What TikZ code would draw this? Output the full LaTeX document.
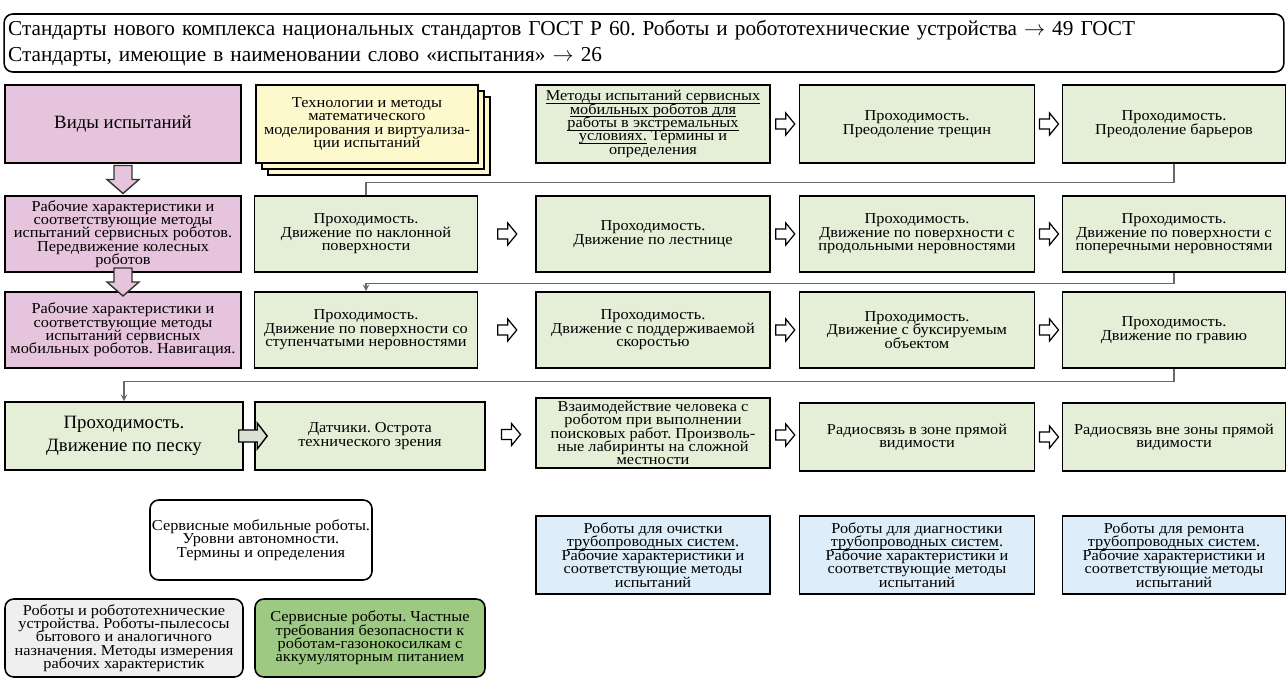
\documentclass[tikz,border=0pt]{standalone}
\usepackage{fontspec}
\setmainfont{Liberation Serif}
\newfontfamily\cellfamily{Liberation Serif}[FakeStretch=1.08]
\usetikzlibrary{calc}

\definecolor{pinkfill}{RGB}{231,196,222}
\definecolor{greenfill}{RGB}{229,239,216}
\definecolor{yellowfill}{RGB}{253,249,204}
\definecolor{bluefill}{RGB}{221,237,249}
\definecolor{greyfill}{RGB}{239,239,239}
\definecolor{lawnfill}{RGB}{158,201,131}
\definecolor{sandarrowfill}{RGB}{220,226,212}
\definecolor{linkgrey}{RGB}{105,105,105}

\newcommand{\cellfont}{\cellfamily\fontsize{8.6}{7.6}\selectfont\lineskiplimit=-4pt\frenchspacing}
\newcommand{\largefont}{\fontsize{10.7}{13.5}\selectfont}
\newcommand{\markline}[1]{\rlap{\underline{\smash{#1}}}\phantom{#1}}

%% hollow block arrow between two boxes of a row
\newcommand{\rightblock}[2]{%
  \path ($(#1.east)!0.5!(#2.west)$) coordinate (mid);
  \draw[blockdecorate] ([shift={(-9,-5)}]mid) -- ([shift={(1,-5)}]mid)
    -- ([shift={(1,-11)}]mid) -- ([shift={(10,0)}]mid) -- ([shift={(1,11)}]mid)
    -- ([shift={(1,5)}]mid) -- ([shift={(-9,5)}]mid) -- cycle;}
%% pink block arrow down the left column
\newcommand{\downblock}[2]{%
  \path ($(#1.south)!0.5!(#2.north)$) coordinate (mid);
  \draw[pinkarrow] ([shift={(-9,-14)}]mid) -- ([shift={(9,-14)}]mid)
    -- ([shift={(9,0)}]mid) -- ([shift={(16,0)}]mid) -- ([shift={(0,14)}]mid)
    -- ([shift={(-16,0)}]mid) -- ([shift={(-9,0)}]mid) -- cycle;}

\begin{document}
\begin{tikzpicture}
        [x=0.02cm,y=-0.02cm,
        boxdecorate/.style={draw=black,line width=0.9pt,align=center,inner sep=1pt,font=\cellfont},%
        bigtext/.style={font=\largefont},%
        plaintext/.style={},%
        pinkdecorate/.style={boxdecorate,fill=pinkfill},%
        greendecorate/.style={boxdecorate,fill=greenfill},%
        yellowdecorate/.style={boxdecorate,fill=yellowfill},%
        bluedecorate/.style={boxdecorate,fill=bluefill},%
        rounddecorate/.style={boxdecorate,rounded corners=5pt},%
        blockdecorate/.style={draw=black,line width=0.7pt,fill=white,line join=miter},%
        pinkarrow/.style={draw=black!80,line width=0.8pt,fill=pinkfill},%
        sandarrow/.style={draw=black,line width=0.8pt,fill=sandarrowfill},%
        linkdecorate/.style={draw=linkgrey,line width=0.7pt,>=stealth}]
        \useasboundingbox (0,0) rectangle (1288,678);

        %% header
        \node (banner) at (644,43) [draw=black,line width=0.9pt,rounded corners=5pt,
          minimum height=58*0.02cm,text width=25.44cm,inner xsep=0.08cm,align=left,
          font=\fontsize{12.1}{14.5}\selectfont\frenchspacing]
          {Стандарты нового комплекса национальных стандартов ГОСТ Р 60. Роботы и робототехнические устройства $\rightarrow$ 49 ГОСТ\\
           Стандарты, имеющие в наименовании слово «испытания» $\rightarrow$ 26};

        %% left column
        \foreach \nodename/\x/\y/\h/\opt/\txt in {
          r11/123/124/78/bigtext/{Виды испытаний},
          r21/123/234/76/plaintext/{Рабочие характеристики и\\соответствующие методы\\испытаний сервисных роботов.\\Передвижение колесных\\роботов},
          r31/123/330/76/plaintext/{Рабочие характеристики и\\соответствующие методы\\испытаний сервисных\\мобильных роботов. Навигация.}}
        {
          \node (\nodename) at (\x,\y) [pinkdecorate,\opt,minimum width=236*0.02cm,minimum height=\h*0.02cm] {\txt};
        }

        %% green boxes
        \foreach \nodename/\x/\y/\w/\h/\opt/\txt in {
          r13/653/124/234/78/plaintext/{\markline{Методы испытаний сервисных}\\\markline{мобильных роботов для}\\\markline{работы в экстремальных}\\\markline{условиях.} Термины и\\определения},
          r14/917/124/235/78/plaintext/{Проходимость.\\Преодоление трещин},
          r15/1174/124/223/78/plaintext/{Проходимость.\\Преодоление барьеров},
          r22/366/234/223/76/plaintext/{Проходимость.\\Движение по наклонной\\поверхности},
          r23/653/234/234/76/plaintext/{Проходимость.\\Движение по лестнице},
          r24/917/234/235/76/plaintext/{Проходимость.\\Движение по поверхности с\\продольными неровностями},
          r25/1174/234/223/76/plaintext/{Проходимость.\\Движение по поверхности с\\поперечными неровностями},
          r32/366/330/223/76/plaintext/{Проходимость.\\Движение по поверхности со\\ступенчатыми неровностями},
          r33/653/330/234/76/plaintext/{Проходимость.\\Движение с поддерживаемой\\скоростью},
          r34/917/330/235/76/plaintext/{Проходимость.\\Движение с буксируемым\\объектом},
          r35/1174/330/223/76/plaintext/{Проходимость.\\Движение по гравию},
          r41/124/436/238/68/bigtext/{Проходимость.\\Движение по песку},
          r42/370/436/230/68/plaintext/{Датчики. Острота\\технического зрения},
          r43/653/433/234/70/plaintext/{Взаимодействие человека с\\роботом при выполнении\\поисковых работ. Произволь-\\ные лабиринты на сложной\\местности},
          r44/917/437/235/68/plaintext/{Радиосвязь в зоне прямой\\видимости},
          r45/1174/437/223/68/plaintext/{Радиосвязь вне зоны прямой\\видимости}}
        {
          \node (\nodename) at (\x,\y) [greendecorate,\opt,minimum width=\w*0.02cm,minimum height=\h*0.02cm] {\txt};
        }

        %% pipeline robots
        \foreach \nodename/\x/\w/\txt in {
          p1/653/234/очистки, p2/917/235/диагностики, p3/1174/223/ремонта}
        {
          \node (\nodename) at (\x,555) [bluedecorate,minimum width=\w*0.02cm,minimum height=78*0.02cm]
            {Роботы для \txt\\\markline{трубопроводных систем}.\\Рабочие характеристики и\\соответствующие методы\\испытаний};
        }

        %% rounded boxes
        \node (levels) at (261,540) [rounddecorate,fill=white,minimum width=222*0.02cm,minimum height=80*0.02cm]
          {Сервисные мобильные роботы.\\Уровни автономности.\\Термины и определения};
        \node (vacuum) at (124,638) [rounddecorate,fill=greyfill,minimum width=238*0.02cm,minimum height=78*0.02cm]
          {Роботы и робототехнические\\устройства. Роботы-пылесосы\\бытового и аналогичного\\назначения. Методы измерения\\рабочих характеристик};
        \node (mower) at (370,638) [rounddecorate,fill=lawnfill,minimum width=230*0.02cm,minimum height=78*0.02cm]
          {Сервисные роботы. Частные\\требования безопасности к\\роботам-газонокосилкам с\\аккумуляторным питанием};

        %% edges or lines
        \draw[linkdecorate] (r15.south) -- ++(0,19) -| (r22.north);
        \draw[linkdecorate,->] (r25.south) -- ++(0,11) -| (r32.north);
        \draw[linkdecorate,->] (r35.south) -- ++(0,13) -| (r41.north);

        %% stacked yellow sheets
        \foreach \nodename/\dx in {y3/12, y2/6}
        {
          \node (\nodename) at (367+\dx,124+\dx) [yellowdecorate,minimum width=222*0.02cm,minimum height=78*0.02cm] {};
        }
        \node (y1) at (367,124) [yellowdecorate,minimum width=222*0.02cm,minimum height=78*0.02cm]
          {Технологии и методы\\математического\\моделирования и виртуализа-\\ции испытаний};

        %% block arrows
        \foreach \startnode/\endnode in {r13/r14, r14/r15, r22/r23, r23/r24, r24/r25,
          r32/r33, r33/r34, r34/r35, r42/r43, r43/r44, r44/r45}
        {
          \rightblock{\startnode}{\endnode}
        }
        \downblock{r11}{r21}
        \downblock{r21}{r31}
        \draw[sandarrow] ([shift={(-5,-6)}]r41.east) -- ([shift={(3,-6)}]r42.west)
          -- ([shift={(3,-13)}]r42.west) -- ([shift={(13,0)}]r42.west) -- ([shift={(3,13)}]r42.west)
          -- ([shift={(3,6)}]r42.west) -- ([shift={(-5,6)}]r41.east) -- cycle;
      \end{tikzpicture}
\end{document}
